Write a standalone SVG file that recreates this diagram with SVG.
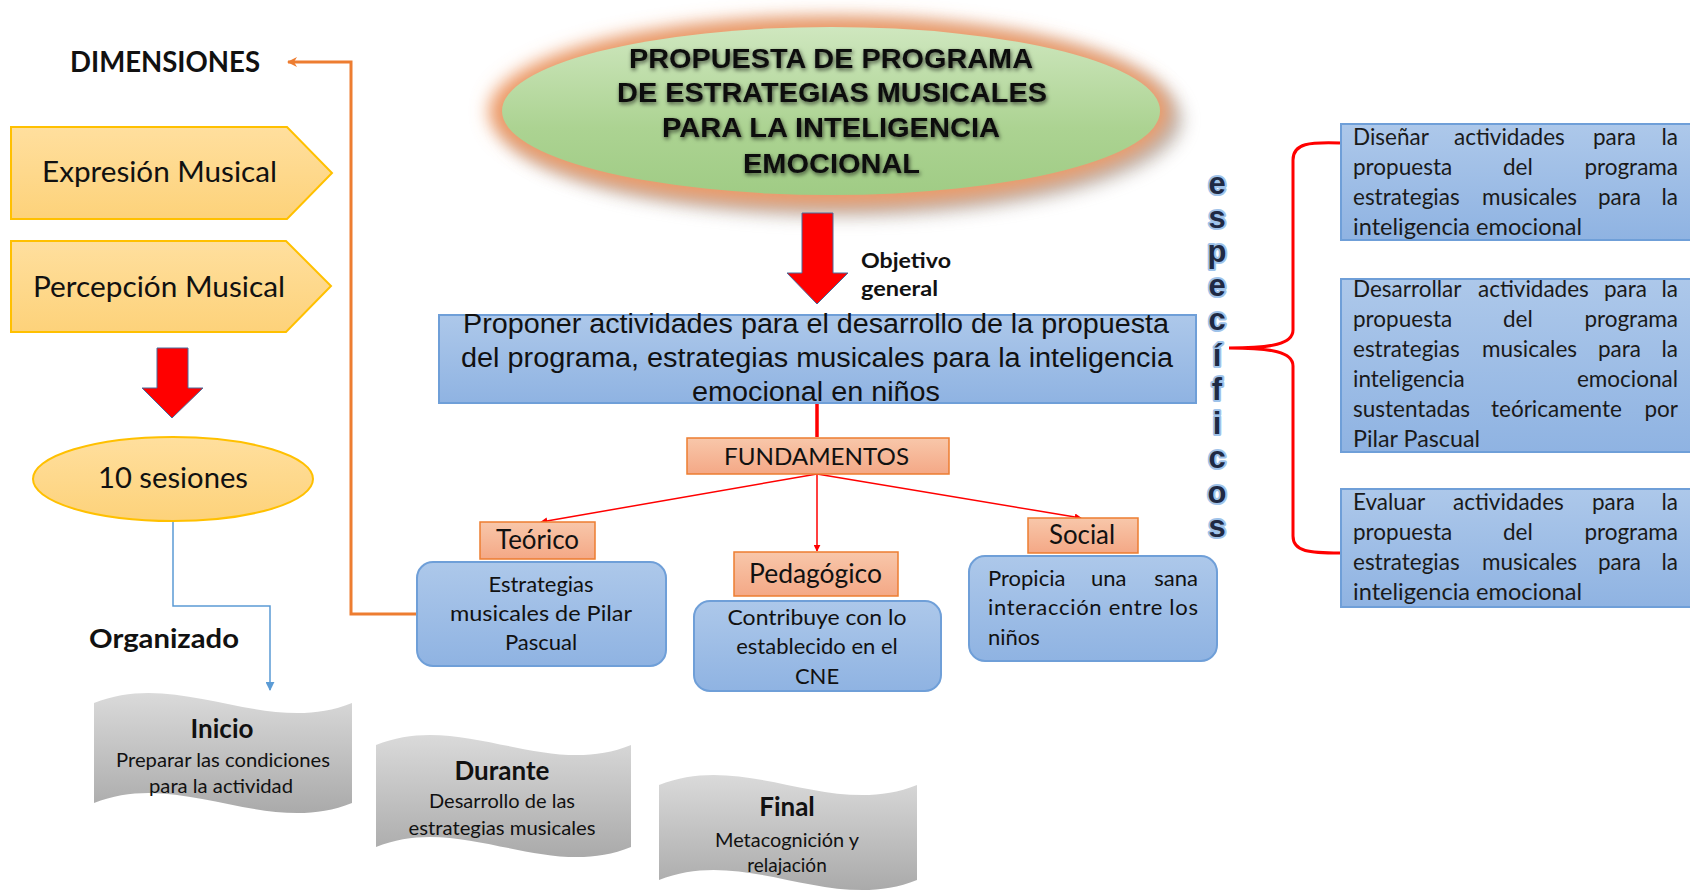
<svg xmlns="http://www.w3.org/2000/svg" width="1690" height="896" viewBox="0 0 1690 896">
<defs>
<linearGradient id="gYel" x1="0" y1="0" x2="0" y2="1"><stop offset="0" stop-color="#ffdf9e"/><stop offset="1" stop-color="#fdd27a"/></linearGradient>
<linearGradient id="gBlue" x1="0" y1="0" x2="0" y2="1"><stop offset="0" stop-color="#adc8ea"/><stop offset="1" stop-color="#8fb3e2"/></linearGradient>
<linearGradient id="gSal" x1="0" y1="0" x2="0" y2="1"><stop offset="0" stop-color="#f8c7aa"/><stop offset="1" stop-color="#f4a886"/></linearGradient>
<linearGradient id="gGray" x1="0" y1="0" x2="0" y2="1"><stop offset="0" stop-color="#dadada"/><stop offset="1" stop-color="#aaaaaa"/></linearGradient>
<linearGradient id="gGreen" x1="0" y1="0" x2="0" y2="1"><stop offset="0" stop-color="#cfe7bf"/><stop offset="0.6" stop-color="#acd392"/><stop offset="1" stop-color="#a0cc85"/></linearGradient>
<filter id="blur" x="-20%" y="-40%" width="140%" height="180%"><feGaussianBlur stdDeviation="9"/></filter>
<filter id="tshadow" x="-10%" y="-30%" width="120%" height="160%"><feGaussianBlur in="SourceAlpha" stdDeviation="2.2"/><feOffset dx="1" dy="2" result="b"/><feFlood flood-color="#000" flood-opacity="0.65"/><feComposite in2="b" operator="in"/><feMerge><feMergeNode/><feMergeNode in="SourceGraphic"/></feMerge></filter>
<marker id="mRed" viewBox="0 0 10 10" refX="9" refY="5" markerWidth="7" markerHeight="7" orient="auto" markerUnits="userSpaceOnUse"><path d="M0,0 L10,5 L0,10 Z" fill="#ff0000"/></marker>
<marker id="mOr" viewBox="0 0 10 10" refX="9" refY="5" markerWidth="12" markerHeight="10" orient="auto" markerUnits="userSpaceOnUse"><path d="M0,0 L10,5 L0,10 L3,5 Z" fill="#ed7d31"/></marker>
<marker id="mBl" viewBox="0 0 10 10" refX="9" refY="5" markerWidth="9" markerHeight="9" orient="auto" markerUnits="userSpaceOnUse"><path d="M0,0 L10,5 L0,10 Z" fill="#5b9bd5"/></marker>
</defs>
<style>
.c{font-family:Lato,"Open Sans","Liberation Sans",sans-serif;fill:#111}
.b{font-weight:bold}
.n{font-family:"Liberation Sans Narrow","Liberation Sans",Arial,sans-serif;fill:#111}
.yel{fill:url(#gYel);stroke:#ffc000;stroke-width:2}
.blue{fill:url(#gBlue);stroke:#6f9fd8;stroke-width:2}
.sal{fill:url(#gSal);stroke:#ed7d31;stroke-width:1.5}
.gray{fill:url(#gGray);stroke:none}
.redA{fill:#ff0000;stroke:#4a6a9a;stroke-width:1}
.esp{font-family:"Liberation Sans",Arial,sans-serif;font-weight:bold;font-size:31px;fill:#1f2a44;stroke:#9fc3ea;stroke-width:4;paint-order:stroke;stroke-linejoin:round}
.rt{font-family:Lato,"Open Sans","Liberation Sans",sans-serif;font-size:22.5px;fill:#1a1a1a}
</style>

<g id="connectors" fill="none">
<path d="M417,614 H351 V62 H288" stroke="#ed7d31" stroke-width="3" marker-end="url(#mOr)"/>
<path d="M173,521 V606 H270 V690" stroke="#5b9bd5" stroke-width="1.5" marker-end="url(#mBl)"/>
<path d="M817,403 V437" stroke="#ff0000" stroke-width="3.5"/>
<path d="M817,474 L541,522" stroke="#ff0000" stroke-width="1.5" marker-end="url(#mRed)"/>
<path d="M817,474 L817,551" stroke="#ff0000" stroke-width="1.5" marker-end="url(#mRed)"/>
<path d="M817,474 L1081,518" stroke="#ff0000" stroke-width="1.5" marker-end="url(#mRed)"/>
<path d="M1340,143 C1310,142 1293,143 1293,160 L1293,330 C1293,344 1272,348 1229,348 C1272,348 1293,352 1293,366 L1293,536 C1293,552 1310,553 1340,553" stroke="#ff0000" stroke-width="3"/>
</g>

<g id="dimensiones"><text class="c b" x="70" y="72" font-size="28" textLength="190" lengthAdjust="spacingAndGlyphs">DIMENSIONES</text></g>

<g id="expresion">
<polygon class="yel" points="11,127 287,127 332,173 287,219 11,219"/>
<text class="c" x="42" y="182" font-size="28" textLength="235" lengthAdjust="spacingAndGlyphs">Expresión Musical</text>
</g>
<g id="percepcion">
<polygon class="yel" points="11,241 286,241 331,286 286,332 11,332"/>
<text class="c" x="33" y="297" font-size="28" textLength="252" lengthAdjust="spacingAndGlyphs">Percepción Musical</text>
</g>

<g id="arrowLeft"><polygon class="redA" points="157,348 188,348 188,388 203,388 172,418 142,388 157,388"/></g>

<g id="sesiones">
<ellipse class="yel" cx="173" cy="479" rx="140" ry="42" stroke-width="1.5"/>
<text class="c" x="98" y="488" font-size="28" textLength="150" lengthAdjust="spacingAndGlyphs">10 sesiones</text>
</g>

<g id="organizado"><text class="c b" x="89" y="648" font-size="27" textLength="150" lengthAdjust="spacingAndGlyphs">Organizado</text></g>

<g id="titulo">
<ellipse cx="842" cy="120" rx="340" ry="96" fill="#8a7a70" opacity="0.55" filter="url(#blur)"/>
<ellipse cx="829" cy="111" rx="340" ry="94" fill="#ee9a66" filter="url(#blur)"/>
<ellipse cx="831" cy="111" rx="329" ry="84" fill="url(#gGreen)"/>
<g filter="url(#tshadow)" class="n b" font-size="27">
<text x="629" y="68" textLength="404" lengthAdjust="spacingAndGlyphs">PROPUESTA DE PROGRAMA</text>
<text x="617" y="102" textLength="430" lengthAdjust="spacingAndGlyphs">DE ESTRATEGIAS MUSICALES</text>
<text x="662" y="137" textLength="338" lengthAdjust="spacingAndGlyphs">PARA LA INTELIGENCIA</text>
<text x="743" y="173" textLength="177" lengthAdjust="spacingAndGlyphs">EMOCIONAL</text>
</g>
</g>

<g id="arrowCenter"><polygon class="redA" points="802,213 833,213 833,273 848,273 817,304 787,273 802,273"/></g>

<g id="objetivo" class="c b" font-size="20">
<text x="861" y="268" textLength="90" lengthAdjust="spacingAndGlyphs">Objetivo</text>
<text x="861" y="296" textLength="77" lengthAdjust="spacingAndGlyphs">general</text>
</g>

<g id="objetivoGeneral">
<rect class="blue" x="439" y="315" width="757" height="88"/>
<g class="n" font-size="27">
<text x="463" y="333" textLength="706" lengthAdjust="spacingAndGlyphs">Proponer actividades para el desarrollo de la propuesta</text>
<text x="461" y="367" textLength="712" lengthAdjust="spacingAndGlyphs">del programa, estrategias musicales para la inteligencia</text>
<text x="692" y="401" textLength="248" lengthAdjust="spacingAndGlyphs">emocional en niños</text>
</g>
</g>

<g id="fundamentos">
<rect class="sal" x="687" y="438" width="262" height="36"/>
<text class="c" x="724" y="465" font-size="24" textLength="185" lengthAdjust="spacingAndGlyphs">FUNDAMENTOS</text>
</g>

<g id="teorico">
<rect class="sal" x="480" y="522" width="115" height="37"/>
<text class="c" x="496" y="549" font-size="26" textLength="83" lengthAdjust="spacingAndGlyphs">Teórico</text>
</g>
<g id="pedagogico">
<rect class="sal" x="734" y="552" width="164" height="44"/>
<text class="c" x="749" y="583" font-size="26" textLength="133" lengthAdjust="spacingAndGlyphs">Pedagógico</text>
</g>
<g id="social">
<rect class="sal" x="1028" y="518" width="110" height="35"/>
<text class="c" x="1049" y="544" font-size="26" textLength="66" lengthAdjust="spacingAndGlyphs">Social</text>
</g>

<g id="teoricoDesc">
<rect class="blue" x="417" y="562" width="249" height="104" rx="16"/>
<g class="c" font-size="22" text-anchor="middle">
<text x="541" y="592">Estrategias</text>
<text x="541" y="621" textLength="182" lengthAdjust="spacingAndGlyphs">musicales de Pilar</text>
<text x="541" y="650">Pascual</text>
</g>
</g>
<g id="pedagogicoDesc">
<rect class="blue" x="694" y="601" width="247" height="90" rx="16"/>
<g class="c" font-size="22" text-anchor="middle">
<text x="817" y="625" textLength="179" lengthAdjust="spacingAndGlyphs">Contribuye con lo</text>
<text x="817" y="654">establecido en el</text>
<text x="817" y="684">CNE</text>
</g>
</g>
<g id="socialDesc">
<rect class="blue" x="969" y="556" width="248" height="105" rx="16"/>
<g class="c" font-size="22">
<text x="988" y="586">Propicia</text><text x="1091" y="586">una</text><text x="1198" y="586" text-anchor="end">sana</text>
<text x="988" y="615" textLength="210" lengthAdjust="spacing">interacción entre los</text>
<text x="988" y="645">niños</text>
</g>
</g>

<g id="especificos" class="esp" text-anchor="middle">
<text x="1217" y="194">e</text>
<text x="1217" y="228">s</text>
<text x="1217" y="262">p</text>
<text x="1217" y="296">e</text>
<text x="1217" y="330">c</text>
<text x="1217" y="366">í</text>
<text x="1217" y="400">f</text>
<text x="1217" y="434">i</text>
<text x="1217" y="468">c</text>
<text x="1217" y="503">o</text>
<text x="1217" y="537">s</text>
</g>

<g id="especifico1">
<rect class="blue" x="1341" y="124" width="352" height="116"/>
<g class="rt">
<text x="1353" y="145">Diseñar</text><text x="1454" y="145">actividades</text><text x="1593" y="145">para</text><text x="1678" y="145" text-anchor="end">la</text>
<text x="1353" y="175">propuesta</text><text x="1503" y="175">del</text><text x="1678" y="175" text-anchor="end">programa</text>
<text x="1353" y="205">estrategias</text><text x="1482" y="205">musicales</text><text x="1598" y="205">para</text><text x="1678" y="205" text-anchor="end">la</text>
<text x="1353" y="235" textLength="229" lengthAdjust="spacingAndGlyphs">inteligencia emocional</text>
</g>
</g>
<g id="especifico2">
<rect class="blue" x="1341" y="279" width="352" height="173"/>
<g class="rt">
<text x="1353" y="297">Desarrollar</text><text x="1478" y="297">actividades</text><text x="1604" y="297">para</text><text x="1678" y="297" text-anchor="end">la</text>
<text x="1353" y="327">propuesta</text><text x="1503" y="327">del</text><text x="1678" y="327" text-anchor="end">programa</text>
<text x="1353" y="357">estrategias</text><text x="1482" y="357">musicales</text><text x="1598" y="357">para</text><text x="1678" y="357" text-anchor="end">la</text>
<text x="1353" y="387">inteligencia</text><text x="1678" y="387" text-anchor="end">emocional</text>
<text x="1353" y="417">sustentadas</text><text x="1491" y="417">teóricamente</text><text x="1678" y="417" text-anchor="end">por</text>
<text x="1353" y="447" textLength="127" lengthAdjust="spacingAndGlyphs">Pilar Pascual</text>
</g>
</g>
<g id="especifico3">
<rect class="blue" x="1341" y="489" width="352" height="118"/>
<g class="rt">
<text x="1353" y="510">Evaluar</text><text x="1453" y="510">actividades</text><text x="1592" y="510">para</text><text x="1678" y="510" text-anchor="end">la</text>
<text x="1353" y="540">propuesta</text><text x="1503" y="540">del</text><text x="1678" y="540" text-anchor="end">programa</text>
<text x="1353" y="570">estrategias</text><text x="1482" y="570">musicales</text><text x="1598" y="570">para</text><text x="1678" y="570" text-anchor="end">la</text>
<text x="1353" y="600" textLength="229" lengthAdjust="spacingAndGlyphs">inteligencia emocional</text>
</g>
</g>

<g id="inicio">
<path class="gray" d="M94,703 C180,668 266,738 352,703 L352,803 C266,838 180,768 94,803 Z"/>
<g class="c" text-anchor="middle">
<text class="b" x="222" y="738" font-size="26">Inicio</text>
<text x="223" y="767" font-size="19" textLength="214" lengthAdjust="spacingAndGlyphs">Preparar las condiciones</text>
<text x="221" y="793" font-size="19" textLength="144" lengthAdjust="spacingAndGlyphs">para la actividad</text>
</g>
</g>
<g id="durante">
<path class="gray" d="M376,745 C461,710 546,780 631,745 L631,847 C546,882 461,812 376,847 Z"/>
<g class="c" text-anchor="middle">
<text class="b" x="502" y="780" font-size="26">Durante</text>
<text x="502" y="808" font-size="19" textLength="146" lengthAdjust="spacingAndGlyphs">Desarrollo de las</text>
<text x="502" y="835" font-size="19" textLength="187" lengthAdjust="spacingAndGlyphs">estrategias musicales</text>
</g>
</g>
<g id="final">
<path class="gray" d="M659,785 C745,750 831,820 917,785 L917,880 C831,915 745,845 659,880 Z"/>
<g class="c" text-anchor="middle">
<text class="b" x="787" y="816" font-size="26">Final</text>
<text x="787" y="847" font-size="19" textLength="144" lengthAdjust="spacingAndGlyphs">Metacognición y</text>
<text x="787" y="872" font-size="19">relajación</text>
</g>
</g>
</svg>
